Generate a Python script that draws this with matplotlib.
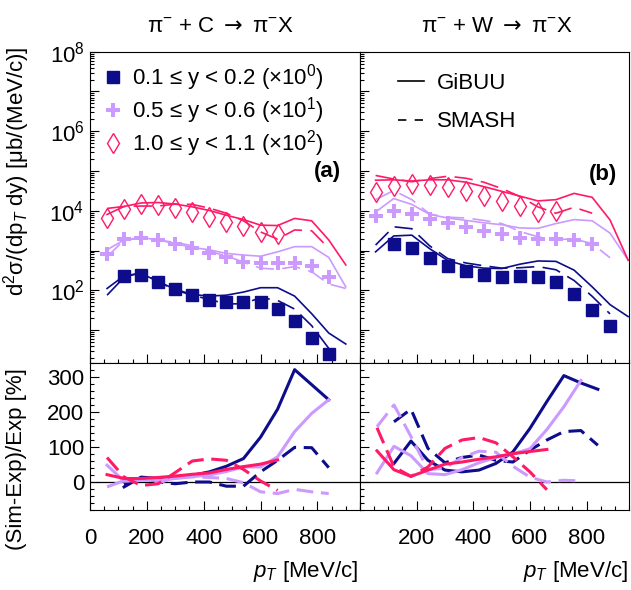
import numpy as np
import matplotlib
matplotlib.use('Agg')
import matplotlib.pyplot as plt
from matplotlib.lines import Line2D
from matplotlib.ticker import MultipleLocator, LogLocator, FuncFormatter, NullFormatter

plt.rcParams['font.family'] = ['Liberation Sans', 'DejaVu Sans']
plt.rcParams['mathtext.fontset'] = 'custom'
plt.rcParams['mathtext.rm'] = 'Liberation Sans'
plt.rcParams['mathtext.it'] = 'Liberation Sans:italic'
plt.rcParams['mathtext.bf'] = 'Liberation Sans:bold'
plt.rcParams['mathtext.sf'] = 'DejaVu Sans'
plt.rcParams['mathtext.fallback'] = 'stixsans'

# couleurs des trois bins en rapidite
c1 = '#0d0d8c'
c5 = '#cc99ff'
c10 = '#ff1a66'

# ---- pi- + C : donnees experimentales (deja multipliees par 10^0, 10^1, 10^2)
x_c_sq = [120, 180, 240, 300, 360, 420, 480, 540, 600, 660, 720, 780, 840]
c_sq = [234, 251, 166, 107, 76, 59, 51, 51, 50, 35, 17, 6.5, 2.5]
x_c_cr = [60, 120, 180, 240, 300, 360, 420, 480, 540, 600, 660, 720, 780, 840]
c_cr = [813, 1950, 2040, 1860, 1445, 1150, 851, 676, 525, 501, 501, 501, 407, 214]
x_c_di = [60, 120, 180, 240, 300, 360, 420, 480, 540, 600, 660]
c_di = [6460, 11200, 14800, 13800, 11700, 9120, 7080, 5370, 4170, 2880, 2570]

# ---- pi- + C : simulations
x_c_sim = [60, 120, 180, 240, 300, 360, 420, 480, 540, 600, 660, 720, 780, 840, 900]
c_gibuu_1 = [112, 234, 269, 166, 107, 79, 72, 76, 91, 117, 117, 72, 26, 8.5, 4.5]
c_smash_1 = [76, 214, 282, 166, 102, 76, 59, 46, 46, 66, 56, 34, 13, 3.5]
c_gibuu_5 = [1050, 1860, 2140, 1860, 1510, 1200, 1050, 851, 776, 724, 933, 1260, 1260, 676, 123]
c_smash_5 = [692, 1860, 2040, 1820, 1620, 1320, 955, 741, 513, 363, 339, 398, 295, 145, 112]
c_gibuu_10 = [8130, 12900, 15800, 16200, 14800, 12600, 10200, 7760, 6030, 4370, 4270, 6460, 5620, 1860, 437]
c_smash_10 = [11500, 12900, 13200, 13200, 14800, 14500, 11700, 8710, 5620, 2950, 1950, 3310, 3160, 1150]

# ---- pi- + W : donnees experimentales
x_w_sq = [119, 183, 246, 310, 374, 437, 501, 565, 628, 692, 756, 820, 883]
w_sq = [1510, 1150, 661, 407, 302, 240, 219, 229, 214, 162, 81, 32, 12.6]
x_w_cr = [55, 119, 183, 246, 310, 374, 437, 501, 565, 628, 692, 756, 820]
w_cr = [7410, 10000, 8320, 6170, 4900, 3890, 3090, 2570, 2090, 1950, 1910, 1860, 1480]
x_w_di = [55, 119, 183, 246, 310, 374, 437, 501, 565, 628, 692]
w_di = [30200, 42700, 46800, 44700, 38900, 32400, 24000, 18200, 13200, 9550, 10000]

# ---- pi- + W : simulations
x_w_sim = [55, 119, 183, 246, 310, 374, 437, 501, 565, 628, 692, 756, 820, 883, 947]
w_gibuu_1 = [933, 2340, 2450, 1120, 562, 417, 363, 355, 457, 550, 537, 324, 123, 44, 22]
w_smash_1 = [1380, 3980, 3550, 1320, 631, 490, 417, 363, 372, 398, 331, 178, 71, 25.7]
w_gibuu_5 = [9330, 20400, 14500, 8130, 6610, 5750, 5010, 4470, 3720, 3630, 4790, 6030, 5620, 2750, 575]
w_smash_5 = [19100, 32400, 19100, 8320, 6920, 6610, 5750, 4790, 3020, 2240, 1910, 1950, 1510, 661]
w_gibuu_10 = [58900, 60300, 56200, 60300, 60300, 52500, 40700, 30900, 23400, 17800, 19100, 27500, 21900, 5890, 575]
w_smash_10 = [77600, 63100, 53700, 64600, 74100, 66100, 52500, 36300, 22900, 12600, 8710, 12300, 8710]

# ---- (Sim-Exp)/Exp en %
x_ratio = [60, 120, 180, 240, 300, 360, 420, 480, 540, 600, 660, 720, 780, 840]
r_c_g1 = [-14, 14, 10, 13, 19, 29, 45, 67, 128, 208, 321, 278, 235]
r_c_s1 = [-8, 13, 0, -5, 0, 0, -12, -12, 29, 62, 99, 98, 41]
r_c_g5 = [48, 2, 5, 5, 10, 15, 20, 30, 43, 43, 72, 144, 196, 235]
r_c_s5 = [-14, 4, 8, -3, 13, 15, 13, 10, -2, -28, -33, -21, -28, -33]
r_c_g10 = [21, 10, 10, 13, 17, 22, 26, 36, 44, 51, 63]
r_c_s10 = [70, 14, -10, -5, 27, 60, 66, 62, 36, 3, -24]

r_w_g1 = [53, 117, 62, 34, 29, 34, 53, 86, 153, 230, 304, 283, 265]
r_w_s1 = [172, 208, 96, 55, 70, 77, 62, 57, 91, 120, 144, 147, 105]
r_w_g5 = [26, 102, 75, 24, 21, 35, 55, 70, 80, 95, 150, 215, 290]
r_w_s5 = [158, 220, 130, 35, 40, 70, 88, 85, 45, 14, 0, 5, 3]
r_w_g10 = [89, 35, 16, 34, 51, 57, 65, 72, 81, 87, 93]
r_w_s10 = [155, 43, 16, 43, 96, 120, 127, 112, 72, 29, -22]

fs = 16
lw_top = 1.2
lw_bot = 2.2
dash_top = (11, 5)
dash_bot = (5.5, 2.5)

fig = plt.figure(figsize=(6.31, 5.90), dpi=100)
W, H = 631, 590
ax_tl = fig.add_axes([90 / W, 1 - 363 / H, 270 / W, 311.3 / H])
ax_tr = fig.add_axes([360 / W, 1 - 363 / H, 269 / W, 311.3 / H])
ax_bl = fig.add_axes([90 / W, 1 - 510 / H, 270 / W, 147 / H])
ax_br = fig.add_axes([360 / W, 1 - 510 / H, 269 / W, 147 / H])


def log_fmt(v, pos):
    e = int(round(np.log10(v)))
    if e % 2 == 0:
        return r'$10^{%d}$' % e
    return ''


for ax in [ax_tl, ax_tr, ax_bl, ax_br]:
    ax.set_xlim(0, 950)
    ax.xaxis.set_major_locator(MultipleLocator(200))
    ax.xaxis.set_minor_locator(MultipleLocator(50))
    ax.tick_params(which='both', direction='in', top=False, right=False, labelsize=fs, width=0.8)
    ax.tick_params(which='major', length=6.5)
    ax.tick_params(which='minor', length=3.2)
    ax.tick_params(axis='x', pad=13)
    ax.tick_params(axis='y', pad=4)
    for s in ax.spines.values():
        s.set_linewidth(0.8)

for ax in [ax_tl, ax_tr]:
    ax.set_yscale('log')
    ax.set_ylim(1.5, 1e8)
    ax.yaxis.set_major_locator(LogLocator(base=10, numticks=20))
    ax.yaxis.set_minor_locator(LogLocator(base=10, subs=np.arange(2, 10), numticks=20))
    ax.yaxis.set_major_formatter(FuncFormatter(log_fmt))
    ax.yaxis.set_minor_formatter(NullFormatter())
    ax.tick_params(labelbottom=False)

for ax in [ax_bl, ax_br]:
    ax.set_ylim(-80, 340)
    ax.yaxis.set_major_locator(MultipleLocator(100))
    ax.yaxis.set_minor_locator(MultipleLocator(20))
    ax.axhline(0, color='k', lw=0.9)

ax_tr.tick_params(labelleft=False)
ax_br.tick_params(labelleft=False)
ax_br.set_xticks([0, 200, 400, 600, 800])
ax_br.set_xticklabels(['', '200', '400', '600', '800'])

# panneau (a) : carbone
ax_tl.plot(x_c_sim, c_gibuu_1, color=c1, lw=lw_top)
ax_tl.plot(x_c_sim[:14], c_smash_1, color=c1, lw=lw_top, dashes=dash_top)
ax_tl.plot(x_c_sim, c_gibuu_5, color=c5, lw=lw_top)
ax_tl.plot(x_c_sim, c_smash_5, color=c5, lw=lw_top, dashes=dash_top)
ax_tl.plot(x_c_sim, c_gibuu_10, color=c10, lw=lw_top)
ax_tl.plot(x_c_sim[:14], c_smash_10, color=c10, lw=lw_top, dashes=dash_top)
ax_tl.plot(x_c_sq, c_sq, 's', color=c1, ms=8.5, label=r'0.1 ≤ y < 0.2 (×10$^{0}$)')
ax_tl.plot(x_c_cr, c_cr, 'P', color=c5, ms=10, mew=0, label=r'0.5 ≤ y < 0.6 (×10$^{1}$)')
ax_tl.plot(x_c_di, c_di, 'd', mfc='none', mec=c10, mew=1, ms=10, label=r'1.0 ≤ y < 1.1 (×10$^{2}$)')
ax_tl.text(0.88, 0.614, '(a)', transform=ax_tl.transAxes, fontsize=fs, fontweight='bold',
           ha='center', va='center')
ax_tl.legend(loc='upper left', bbox_to_anchor=(0.045, 0.965), frameon=False, fontsize=fs,
             handlelength=1.0, handletextpad=0.35, labelspacing=0.08, borderpad=0,
             borderaxespad=0, numpoints=1)

# panneau (b) : tungstene
ax_tr.plot(x_w_sim, w_gibuu_1, color=c1, lw=lw_top)
ax_tr.plot(x_w_sim[:14], w_smash_1, color=c1, lw=lw_top, dashes=dash_top)
ax_tr.plot(x_w_sim, w_gibuu_5, color=c5, lw=lw_top)
ax_tr.plot(x_w_sim[:14], w_smash_5, color=c5, lw=lw_top, dashes=dash_top)
ax_tr.plot(x_w_sim, w_gibuu_10, color=c10, lw=lw_top)
ax_tr.plot(x_w_sim[:13], w_smash_10, color=c10, lw=lw_top, dashes=dash_top)
ax_tr.plot(x_w_sq, w_sq, 's', color=c1, ms=8.5)
ax_tr.plot(x_w_cr, w_cr, 'P', color=c5, ms=10, mew=0)
ax_tr.plot(x_w_di, w_di, 'd', mfc='none', mec=c10, mew=1, ms=10)
ax_tr.text(0.905, 0.604, '(b)', transform=ax_tr.transAxes, fontsize=fs, fontweight='bold',
           ha='center', va='center')
handles = [Line2D([], [], color='k', lw=lw_top),
           Line2D([], [], color='k', lw=lw_top, linestyle=(0, (5, 5)))]
ax_tr.legend(handles, ['GiBUU', 'SMASH'], loc='upper left', bbox_to_anchor=(0.14, 0.933),
             frameon=False, fontsize=fs, handlelength=1.2, handletextpad=0.55,
             labelspacing=0.8, borderpad=0, borderaxespad=0)

# rapports
ax_bl.plot(x_ratio[1:], r_c_g1, color=c1, lw=lw_bot)
ax_bl.plot(x_ratio[1:], r_c_s1, color=c1, lw=lw_bot, dashes=dash_bot)
ax_bl.plot(x_ratio, r_c_g5, color=c5, lw=lw_bot)
ax_bl.plot(x_ratio, r_c_s5, color=c5, lw=lw_bot, dashes=dash_bot)
ax_bl.plot(x_ratio[:11], r_c_g10, color=c10, lw=lw_bot)
ax_bl.plot(x_ratio[:11], r_c_s10, color=c10, lw=lw_bot, dashes=dash_bot)

ax_br.plot(x_ratio[1:], r_w_g1, color=c1, lw=lw_bot)
ax_br.plot(x_ratio[1:], r_w_s1, color=c1, lw=lw_bot, dashes=dash_bot)
ax_br.plot(x_ratio[:13], r_w_g5, color=c5, lw=lw_bot)
ax_br.plot(x_ratio[:13], r_w_s5, color=c5, lw=lw_bot, dashes=dash_bot)
ax_br.plot(x_ratio[:11], r_w_g10, color=c10, lw=lw_bot)
ax_br.plot(x_ratio[:11], r_w_s10, color=c10, lw=lw_bot, dashes=dash_bot)

# titres et axes
fig.text(220 / W, 1 - 27 / H, r'π$^{-}$ + C $\mathsf{\rightarrow}$ π$^{-}$X', fontsize=fs, ha='center', va='center')
fig.text(497 / W, 1 - 27 / H, r'π$^{-}$ + W $\mathsf{\rightarrow}$ π$^{-}$X', fontsize=fs, ha='center', va='center')
fig.text(17 / W, 1 - 46 / H, r'd$^{2}$σ/(dp$_{T}$ dy) [μb/(MeV/c)]', fontsize=fs,
         rotation=90, ha='center', va='top')
fig.text(17 / W, 1 - 368 / H, '(Sim-Exp)/Exp [%]', fontsize=fs, rotation=90, ha='center', va='top')
fig.text(358 / W, 1 - 572 / H, r'$p_{T}$ [MeV/c]', fontsize=fs, ha='right', va='center')
fig.text(628 / W, 1 - 572 / H, r'$p_{T}$ [MeV/c]', fontsize=fs, ha='right', va='center')

fig.savefig('out.png', dpi=100)
